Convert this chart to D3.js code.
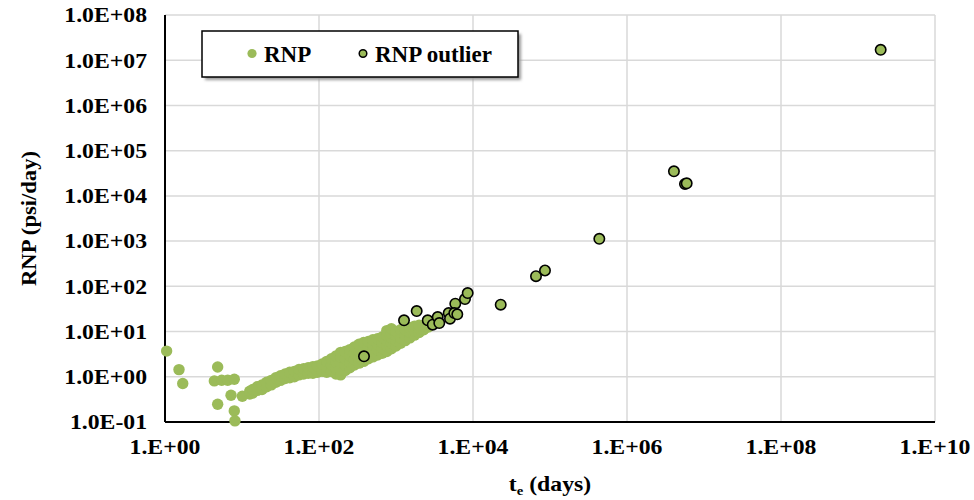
<!DOCTYPE html>
<html>
<head>
<meta charset="utf-8">
<script src="https://cdn.jsdelivr.net/npm/d3@7"></script>
<style>
  body { margin: 0; background: #fff; }
  text { font-family: "Liberation Serif", "Times New Roman", serif; font-weight: bold; fill: #000; }
</style>
</head>
<body>
<div id="chart"></div>
<script>
// tick values + labels
var xTicks = [1, 1e2, 1e4, 1e6, 1e8, 1e10];
var xTickLabels = ["1.E+00", "1.E+02", "1.E+04", "1.E+06", "1.E+08", "1.E+10"];
var yTicks = [1e-1, 1, 1e1, 1e2, 1e3, 1e4, 1e5, 1e6, 1e7, 1e8];
var yTickLabels = ["1.0E-01", "1.0E+00", "1.0E+01", "1.0E+02", "1.0E+03", "1.0E+04", "1.0E+05", "1.0E+06", "1.0E+07", "1.0E+08"];
var seriesNames = ["RNP", "RNP outlier"];

// RNP points [te (days), RNP (psi/day)]
var rnpData = [
  [1.05, 3.7], [1.52, 1.44], [1.70, 0.71], [4.83, 1.64], [4.37, 0.81], [5.45, 0.84], [6.52, 0.84],
  [7.94, 0.88], [4.83, 0.247], [7.2, 0.39], [7.94, 0.176], [8.1, 0.106], [10.1, 0.37],
  [12.6, 0.417], [12.6, 0.479], [13.8, 0.437], [13.8, 0.525], [15.8, 0.501], [15.8, 0.603],
  [18.2, 0.525], [18.2, 0.661], [20.9, 0.603], [20.9, 0.759], [24.0, 0.661], [24.0, 0.832],
  [27.5, 0.759], [27.5, 0.955], [31.6, 0.832], [31.6, 1.05], [36.3, 0.912], [36.3, 1.15],
  [41.7, 0.955], [41.7, 1.26], [47.9, 1.00], [47.9, 1.32], [55.0, 1.10], [55.0, 1.45],
  [63.1, 1.15], [63.1, 1.51], [72.4, 1.20], [72.4, 1.58], [83.2, 1.20], [83.2, 1.66],
  [95.5, 1.26], [95.5, 1.74], [110, 1.32], [110, 1.91],
  [126, 1.26], [126, 1.66], [126, 2.19],
  [145, 1.32], [145, 1.82], [145, 2.51],
  [166, 1.15], [166, 1.51], [166, 2.09], [166, 2.88],
  [191, 1.10], [191, 1.45], [191, 2.0], [191, 2.75], [191, 3.47],
  [219, 1.38], [219, 1.82], [219, 2.51], [219, 3.63],
  [251, 1.58], [251, 2.09], [251, 2.88], [251, 3.98],
  [288, 1.82], [288, 2.40], [288, 3.31], [288, 4.57],
  [331, 2.0], [331, 2.63], [331, 3.63], [331, 5.25],
  [380, 2.19], [380, 2.88], [380, 3.98], [380, 5.75],
  [437, 2.51], [437, 3.31], [437, 4.57], [437, 6.03],
  [501, 2.75], [501, 3.63], [501, 5.01], [501, 6.61],
  [575, 3.02], [575, 3.98], [575, 5.25], [575, 6.92],
  [661, 3.31], [661, 4.37], [661, 5.75], [661, 7.59],
  [759, 3.63], [759, 4.79], [759, 6.31], [759, 8.32], [759, 10.5],
  [871, 4.17], [871, 5.50], [871, 7.24], [871, 9.12], [871, 11.5],
  [1000, 4.79], [1000, 6.31], [1000, 8.32], [1000, 10.0],
  [1148, 5.50], [1148, 7.24], [1148, 9.55], [1148, 11.0],
  [1318, 6.31], [1318, 8.32], [1318, 11.0],
  [1514, 7.24], [1514, 9.55], [1514, 12.0],
  [1738, 8.32], [1738, 10.5], [1738, 13.2],
  [1995, 9.55], [1995, 12.0], [1995, 13.8],
  [2291, 11.0], [2291, 13.2], [2630, 12.6], [2630, 14.5]
];

// outliers
var outlierData = [
  [384, 2.84], [1271, 17.7], [1857, 28.4], [2582, 17.7], [3000, 14.2], [3482, 20.9],
  [3650, 15.4], [4834, 25.6], [5027, 19.3], [5890, 41.3], [5717, 25.6], [6253, 24.0],
  [7870, 52.2], [8534, 70.8], [22900, 39.3], [65800, 168], [86100, 224], [437000, 1125],
  [4.07e6, 34900], [5.66e6, 18400], [5.96e6, 19000], [1.97e9, 1.70e7]
];

var width = 974, height = 500;
var margin = {top: 15, right: 39, bottom: 78, left: 165};
var plotW = width - margin.left - margin.right,
    plotH = height - margin.top - margin.bottom;
var green = "#9bbb59";
var stretch = 1.13; // tick labels in the picture are a bit wider than plain Times

var svg = d3.select("#chart")
            .append("svg")
              .attr("width", width)
              .attr("height", height);

var defs = svg.append("defs");
defs.append("filter")
      .attr("id", "shadow")
      .attr("x", "-10%").attr("y", "-30%")
      .attr("width", "130%").attr("height", "180%")
    .append("feGaussianBlur")
      .attr("stdDeviation", 1.5);

var g = svg.append("g")
           .attr("transform", "translate(" + margin.left + "," + margin.top + ")");

var x = d3.scaleLog().domain([1, 1e10]).range([0, plotW]);
var y = d3.scaleLog().domain([0.1, 1e8]).range([plotH, 0]);

//GRIDLINES//
g.append("g")
  .selectAll("line")
  .data(yTicks)
  .enter()
  .append("line")
    .attr("x1", 0).attr("x2", plotW)
    .attr("y1", d => y(d)).attr("y2", d => y(d))
    .attr("stroke", "#d9d9d9")
    .attr("stroke-width", 1.5);
g.append("g")
  .selectAll("line")
  .data(xTicks)
  .enter()
  .append("line")
    .attr("x1", d => x(d)).attr("x2", d => x(d))
    .attr("y1", 0).attr("y2", plotH)
    .attr("stroke", "#d9d9d9")
    .attr("stroke-width", 1.5);

//AXES//
g.append("line")
  .attr("x1", 0).attr("x2", 0).attr("y1", 0).attr("y2", plotH)
  .attr("stroke", "#000").attr("stroke-width", 2);
g.append("line")
  .attr("x1", 0).attr("x2", plotW).attr("y1", plotH).attr("y2", plotH)
  .attr("stroke", "#000").attr("stroke-width", 2);

g.append("g")
  .selectAll("text")
  .data(xTicks)
  .enter()
  .append("text")
    .attr("transform", d => "translate(" + x(d) + "," + (plotH + 32) + ") scale(" + stretch + ",1)")
    .attr("text-anchor", "middle")
    .style("font-size", "21px")
    .text((d, i) => xTickLabels[i]);

g.append("g")
  .selectAll("text")
  .data(yTicks)
  .enter()
  .append("text")
    .attr("transform", d => "translate(-18," + y(d) + ") scale(" + stretch + ",1)")
    .attr("dy", "0.35em")
    .attr("text-anchor", "end")
    .style("font-size", "21px")
    .text((d, i) => yTickLabels[i]);

//AXIS TITLES//
var xTitle = g.append("text")
              .attr("transform", "translate(" + (plotW / 2) + "," + (plotH + 69) + ") scale(" + stretch + ",1)")
              .attr("text-anchor", "middle")
              .style("font-size", "21px");
xTitle.append("tspan").text("t");
xTitle.append("tspan").attr("dy", 4).style("font-size", "13px").text("e");
xTitle.append("tspan").attr("dy", -4).text(" (days)");

g.append("text")
  .attr("transform", "rotate(-90) scale(" + stretch + ",1)")
  .attr("x", -plotH / 2 / stretch)
  .attr("y", -129)
  .attr("text-anchor", "middle")
  .style("font-size", "20px")
  .text("RNP (psi/day)");

//POINTS//
g.append("g")
  .selectAll("circle")
  .data(rnpData)
  .enter()
  .append("circle")
    .attr("cx", d => x(d[0]))
    .attr("cy", d => y(d[1]))
    .attr("r", 5.7)
    .attr("fill", green);

g.append("g")
  .selectAll("circle")
  .data(outlierData)
  .enter()
  .append("circle")
    .attr("cx", d => x(d[0]))
    .attr("cy", d => y(d[1]))
    .attr("r", 5.2)
    .attr("fill", green)
    .attr("stroke", "#000")
    .attr("stroke-width", 1.6);

//LEGEND//
var legend = svg.append("g").attr("transform", "translate(202,31)");
legend.append("rect")
      .attr("x", 3).attr("y", 3)
      .attr("width", 316).attr("height", 46)
      .attr("fill", "#999")
      .attr("filter", "url(#shadow)");
legend.append("rect")
      .attr("width", 316).attr("height", 46)
      .attr("fill", "#fff")
      .attr("stroke", "#000")
      .attr("stroke-width", 1.5);
var legendX = [50, 161];
legend.selectAll(".mk")
      .data(seriesNames)
      .enter()
      .append("circle")
        .attr("cx", (d, i) => legendX[i])
        .attr("cy", 22.5)
        .attr("r", (d, i) => i === 0 ? 4.6 : 3.8)
        .attr("fill", green)
        .attr("stroke", (d, i) => i === 0 ? "none" : "#000")
        .attr("stroke-width", 1.5);
legend.selectAll(".lb")
      .data(seriesNames)
      .enter()
      .append("text")
        .attr("x", (d, i) => legendX[i] + 12)
        .attr("y", 23)
        .attr("dy", "0.35em")
        .style("font-size", "23px")
        .text(d => d);
</script>
</body>
</html>
